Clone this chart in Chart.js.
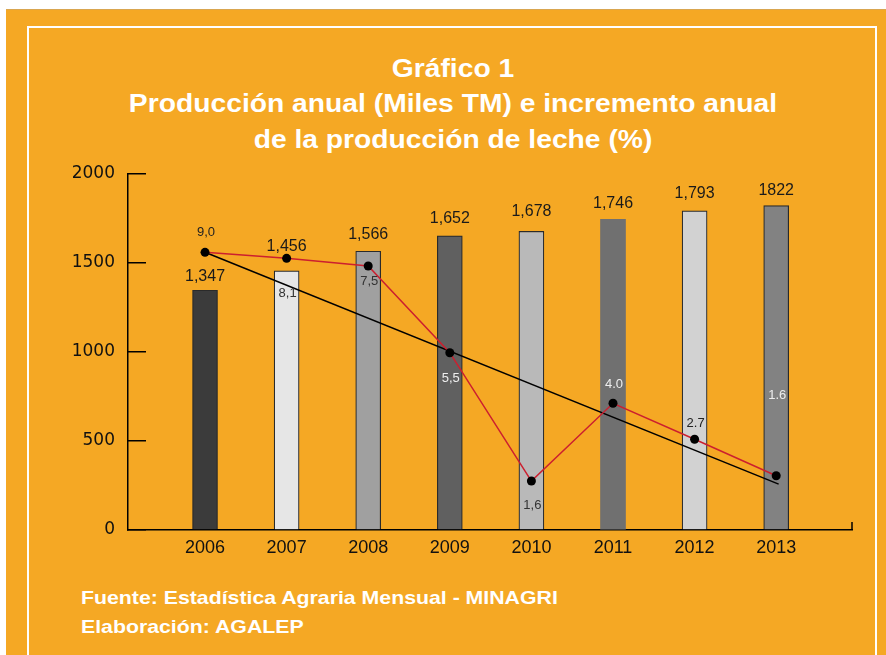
<!DOCTYPE html>
<html><head><meta charset="utf-8">
<script src="https://cdn.jsdelivr.net/npm/chart.js@4"></script>
<style>
html,body{margin:0;padding:0;width:886px;height:655px;overflow:hidden;background:#fff;}
#bg{position:absolute;left:6px;top:9px;width:880px;height:646px;background:#F5A824;border-top:1px solid #D9A650;box-sizing:border-box;}
#frame{position:absolute;left:27px;top:26px;width:850px;height:660px;border:2.5px solid #fff;box-sizing:border-box;}
.title{position:absolute;left:0;width:906px;text-align:center;color:#fff;font:bold 25px "Liberation Sans",Arial,sans-serif;line-height:30px;white-space:nowrap;transform:scaleX(1.13);transform-origin:453px 50%;}
.foot{position:absolute;left:81px;color:#fff;font:bold 18.5px "Liberation Sans",Arial,sans-serif;line-height:22px;white-space:nowrap;transform:scaleX(1.15);transform-origin:0 50%;}
#c{position:absolute;left:0;top:0;}
</style></head>
<body>
<div id="bg"></div>
<div id="frame"></div>
<div class="title" style="top:53px">Gráfico 1</div>
<div class="title" style="top:88px">Producción anual (Miles TM) e incremento anual</div>
<div class="title" style="top:124px">de la producción de leche (%)</div>
<div class="foot" style="top:587px">Fuente: Estadística Agraria Mensual - MINAGRI</div>
<div class="foot" style="top:616px">Elaboración: AGALEP</div>
<canvas id="c" width="886" height="655" style="width:886px;height:655px"></canvas>
<script>
// ---- data ----
const years = ['2006','2007','2008','2009','2010','2011','2012','2013'];
const production = [1347, 1456, 1566, 1652, 1678, 1746, 1793, 1822];
const productionLabels = ['1,347','1,456','1,566','1,652','1,678','1,746','1,793','1822'];
const incrementPct = ['9,0','8,1','7,5','5,5','1,6','4.0','2.7','1.6'];
// heights at which the increment markers are plotted (read on the left axis)
const incrementMarkers = [1560, 1526, 1483, 996, 275, 712, 510, 305];
const trendX = [0, 7.03];
const trendY = [1560, 258];
const yTicks = [0, 500, 1000, 1500, 2000];

// ---- styles ----
const barColors = ['#3b3b3b','#e6e6e6','#a0a0a0','#606060','#b9b9b9','#707070','#d2d2d2','#828282'];
const barBorderWidths = [1.2,1.2,1.2,1.2,1.2,0,1.2,1.2];
const barLabelOffsets = [14, 24, 17, 17, 20, 16, 17, 15];
const pctOffsets = [-20, 35, 15, 26, 24, -19, -16, -80];
const pctColors = ['#222','#333','#333','#eee','#333','#eee','#222','#eee'];

const labelPlugin = {
  id: 'labels',
  afterDatasetsDraw(chart) {
    const c = chart.ctx;
    c.save();
    c.textAlign = 'center';
    c.textBaseline = 'middle';
    const barMeta = chart.getDatasetMeta(2);
    c.font = '16px "Liberation Sans", Arial, sans-serif';
    c.fillStyle = '#1a1a1a';
    barMeta.data.forEach((el, i) => c.fillText(productionLabels[i], el.x, el.y - barLabelOffsets[i]));
    const lineMeta = chart.getDatasetMeta(0);
    c.font = '13px "Liberation Sans", Arial, sans-serif';
    lineMeta.data.forEach((el, i) => {
      c.fillStyle = pctColors[i];
      c.fillText(incrementPct[i], el.x + 1, el.y + pctOffsets[i]);
    });
    const a = chart.chartArea;
    c.strokeStyle = '#000';
    c.lineWidth = 1.5;
    c.beginPath();
    c.moveTo(a.right, a.bottom);
    c.lineTo(a.right, a.bottom - 8);
    c.stroke();
    c.restore();
  }
};

new Chart(document.getElementById('c'), {
  type: 'bar',
  data: {
    datasets: [
      {
        type: 'line',
        data: incrementMarkers.map((v, i) => ({x: i, y: v})),
        borderColor: '#cc1f2f', borderWidth: 1.5,
        pointRadius: 4.5, pointBackgroundColor: '#000', pointBorderColor: '#000', pointBorderWidth: 0,
        tension: 0, order: 1
      },
      {
        type: 'line',
        data: trendX.map((x, i) => ({x: x, y: trendY[i]})),
        borderColor: '#000', borderWidth: 1.5, pointRadius: 0, order: 2
      },
      {
        type: 'bar',
        data: production.map((v, i) => ({x: i, y: v})),
        backgroundColor: barColors, borderColor: '#2a2a2a', borderWidth: barBorderWidths,
        barThickness: 25, order: 3
      }
    ]
  },
  options: {
    responsive: false, animation: false, devicePixelRatio: 1,
    layout: {padding: {left: 0, top: 174, right: 34, bottom: 0}},
    plugins: {legend: {display: false}, tooltip: {enabled: false}, title: {display: false}},
    scales: {
      x: {
        type: 'linear', min: -0.944, max: 7.929, offset: false,
        afterFit(s) { s.height = 125; },
        afterBuildTicks(s) { s.ticks = years.map((_, i) => ({value: i})); },
        ticks: {
          callback: (v) => years[v], autoSkip: false, maxRotation: 0, padding: 7, color: '#111',
          font: {family: '"Liberation Sans", Arial, sans-serif', size: 18}
        },
        grid: {display: false, drawTicks: false, offset: false},
        border: {display: true, color: '#000', width: 1.5}
      },
      y: {
        min: 0, max: 2000,
        afterFit(s) { s.width = 128; },
        afterBuildTicks(s) { s.ticks = yTicks.map(v => ({value: v})); },
        ticks: {padding: 31, color: '#111', callback: (v) => String(v),
          font: {family: '"DejaVu Sans", sans-serif', size: 17}},
        grid: {display: true, drawOnChartArea: false, drawTicks: true, tickLength: -18, color: '#000', lineWidth: 1.5},
        border: {display: true, color: '#000', width: 1.5}
      }
    }
  },
  plugins: [labelPlugin]
});
</script>
</body></html>
